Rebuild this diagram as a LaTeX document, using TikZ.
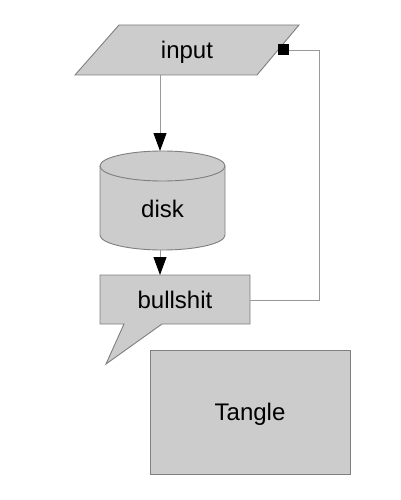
\documentclass[tikz,border=0pt]{standalone}
\usepackage{fontspec}
\setmainfont{Liberation Sans}
\usetikzlibrary{arrows.meta}
\definecolor{shapegray}{HTML}{CCCCCC}
\definecolor{bordergray}{HTML}{7F7F7F}
\definecolor{linegray}{HTML}{999999}
\tikzset{
  shapefill/.style={fill=shapegray, draw=bordergray, line width=0.9pt, line join=miter},
  conn/.style={draw=linegray, line width=0.9pt},
  arr/.style={conn, -{Triangle[length=18pt,width=13pt,color=black]}},
  lbl/.style={font=\fontsize{24}{28}\selectfont, inner sep=0pt, text height=17.5pt, text depth=0pt}
}
\begin{document}
\begin{tikzpicture}[x=1pt,y=1pt]
\useasboundingbox (0,0) rectangle (400,-500);
% input (parallelogram)
\path[shapefill] (119,-25) -- (299,-25) -- (257,-75) -- (75,-75) -- cycle;
\node[lbl] (input) at (187,-50) {input};
% disk (cylinder)
\path[shapefill] (100,-166) -- (100,-235) arc[start angle=180, end angle=360, x radius=62.5pt, y radius=15pt]
  -- (225,-166) arc[start angle=0, end angle=180, x radius=62.5pt, y radius=15pt] -- cycle;
\draw[bordergray, line width=0.9pt] (100,-166) arc[start angle=180, end angle=360, x radius=62.5pt, y radius=15pt];
\node[lbl] (disk) at (162.5,-208.25) {disk};
% bullshit (callout)
\path[shapefill] (100,-275) -- (250,-275) -- (250,-324) -- (162,-324) -- (106,-364) -- (124,-324) -- (100,-324) -- cycle;
\node[lbl] (bull) at (175,-299.5) {bullshit};
% Tangle
\node[shapefill, lbl, minimum width=200pt, minimum height=124pt] (tangle) at (250,-412) {Tangle};
% connector anchors
\coordinate (inS) at (160,-75);
\coordinate (diskN) at (160,-151);
\coordinate (diskS) at (160,-250);
\coordinate (bullN) at (160,-275);
\coordinate (bullE) at (250,-300);
\coordinate (bend) at (319,-50);
% connectors
\draw[arr] (inS) -- (diskN);
\draw[arr] (diskS) -- (bullN);
\node[fill=black, minimum size=11pt, inner sep=0pt] (sq) at (283,-50) {};
\draw[conn] (sq.east) -- (bend) |- (bullE);
\end{tikzpicture}
\end{document}
